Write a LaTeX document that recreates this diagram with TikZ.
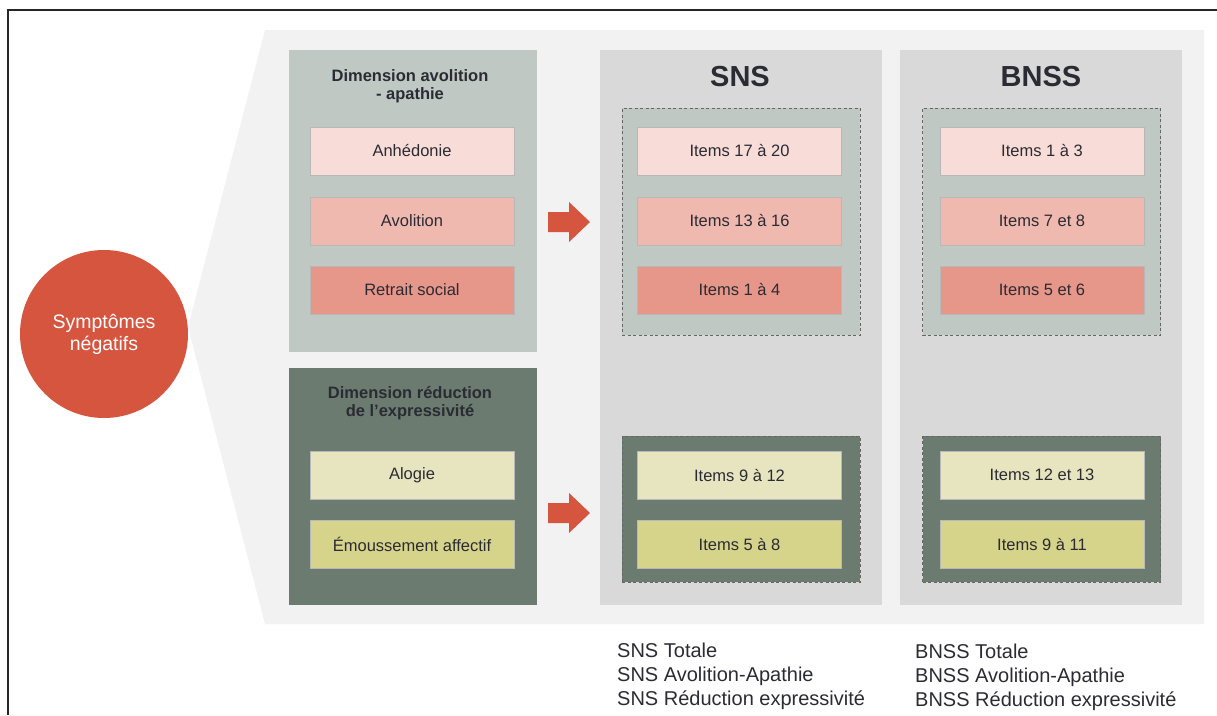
\documentclass[tikz,border=0pt]{standalone}
\usepackage{fontspec}
\setmainfont{Liberation Sans}
\definecolor{PaleGrey}{HTML}{F2F2F2}
\definecolor{ColGrey}{HTML}{D9D9D9}
\definecolor{SageLight}{HTML}{BFC8C3}
\definecolor{SageDark}{HTML}{6B7B70}
\definecolor{BrickRed}{HTML}{D5553F}
\definecolor{PinkA}{HTML}{F8DCD8}
\definecolor{PinkB}{HTML}{F0B9AF}
\definecolor{PinkC}{HTML}{E7968A}
\definecolor{StrawA}{HTML}{E6E5BF}
\definecolor{StrawB}{HTML}{D6D38B}
\definecolor{InkGrey}{HTML}{2B2B33}
\usetikzlibrary{positioning}

\begin{document}
\begin{tikzpicture}[x=1pt, y=-1pt,
        itembox/.style={draw=black!28, line width=0.8pt, minimum width=204pt, minimum height=48pt, inner sep=0pt, text=InkGrey, font=\fontsize{16.5}{19}\selectfont},
        dimbox/.style={minimum width=248pt, inner sep=0pt},
        colbox/.style={fill=ColGrey, minimum width=282pt, minimum height=555pt, inner sep=0pt},
        dashbox/.style={draw=black!60, dash pattern=on 3pt off 2.5pt, line width=0.8pt, minimum width=238pt, inner sep=0pt},
        heading/.style={font=\bfseries\fontsize{16.5}{18}\selectfont, text=InkGrey, align=center},
        scalehead/.style={font=\bfseries\fontsize{29}{32}\selectfont, text=InkGrey},
        scorelist/.style={font=\fontsize{20}{24}\selectfont, text=InkGrey, align=left, anchor=west, inner sep=0pt}]
        \useasboundingbox (0,0) rectangle (1217,715);
        \draw[line width=1.6pt, black!85] (1217,10) -- (8,10) -- (8,715);

        % background band
        \fill[PaleGrey] (265,30) -- (1204,30) -- (1204,624) -- (265,624) -- (188,327) -- cycle;

        \node[circle, fill=BrickRed, minimum size=168pt, inner sep=0pt, text=white, align=center, font=\fontsize{19.5}{22}\selectfont] (negsym) at (104,334) {Symptômes\\négatifs};

        % dimensions
        \node[dimbox, fill=SageLight, minimum height=302pt] (dimAvo) at (413,201) {};
        \node[dimbox, fill=SageDark, minimum height=237pt] (dimExp) at (413,486.5) {};
        \node[heading] (dimAvoTitle) at (410,86) {Dimension avolition\\- apathie};
        \node[heading] (dimExpTitle) at (410,403) {Dimension réduction\\de l’expressivité};

        \node[itembox, fill=PinkA] (anhedonie) at (412,151) {Anhédonie};
        \node[itembox, fill=PinkB] (avolition) at (412,221) {Avolition};
        \node[itembox, fill=PinkC] (retrait) at (412,290) {Retrait social};
        \node[itembox, fill=StrawA] (alogie) at (412,475) {Alogie};
        \node[itembox, fill=StrawB] (emouss) at (412,544) {Émoussement affectif};

        % scales
        \node[colbox] (snsCol) at (741,327.5) {};
        \node[colbox] (bnssCol) at (1041,327.5) {};
        \node[scalehead] (snsTitle) at (740,77) {SNS};
        \node[scalehead] (bnssTitle) at (1041,77) {BNSS};

        \node[dashbox, fill=SageLight, minimum height=227pt] (snsAvo) at (741,221.5) {};
        \node[dashbox, fill=SageDark, minimum height=146pt] (snsExp) at (741,509) {};
        \node[dashbox, fill=SageLight, minimum height=227pt] (bnssAvo) at (1041.5,221.5) {};
        \node[dashbox, fill=SageDark, minimum height=146pt] (bnssExp) at (1041.5,509) {};

        \node[itembox, fill=PinkA] (sns1) at (739.5,151) {Items 17 à 20};
        \node[itembox, fill=PinkB] (sns2) at (739.5,221) {Items 13 à 16};
        \node[itembox, fill=PinkC] (sns3) at (739.5,290) {Items 1 à 4};
        \node[itembox, fill=StrawA] (sns4) at (739.5,475) {Items 9 à 12};
        \node[itembox, fill=StrawB] (sns5) at (739.5,544) {Items 5 à 8};

        \node[itembox, fill=PinkA] (bnss1) at (1042,151) {Items 1 à 3};
        \node[itembox, fill=PinkB] (bnss2) at (1042,221) {Items 7 et 8};
        \node[itembox, fill=PinkC] (bnss3) at (1042,290) {Items 5 et 6};
        \node[itembox, fill=StrawA] (bnss4) at (1042,475) {Items 12 et 13};
        \node[itembox, fill=StrawB] (bnss5) at (1042,544) {Items 9 à 11};

        % block arrows
        \coordinate (arrAvo) at (548,222);
        \coordinate (arrExp) at (548,513);
        \fill[BrickRed] (arrAvo) ++(0,-10) -- ++(21,0) -- ++(0,-10) -- ++(21,20) -- ++(-21,20) -- ++(0,-10) -- ++(-21,0) -- cycle;
        \fill[BrickRed] (arrExp) ++(0,-10) -- ++(21,0) -- ++(0,-10) -- ++(21,20) -- ++(-21,20) -- ++(0,-10) -- ++(-21,0) -- cycle;

        \node[scorelist] (snsScores) at (617,676) {SNS Totale\\SNS Avolition-Apathie\\SNS Réduction expressivité};
        \node[scorelist] (bnssScores) at (915,677) {BNSS Totale\\BNSS Avolition-Apathie\\BNSS Réduction expressivité};
    \end{tikzpicture}
\end{document}
